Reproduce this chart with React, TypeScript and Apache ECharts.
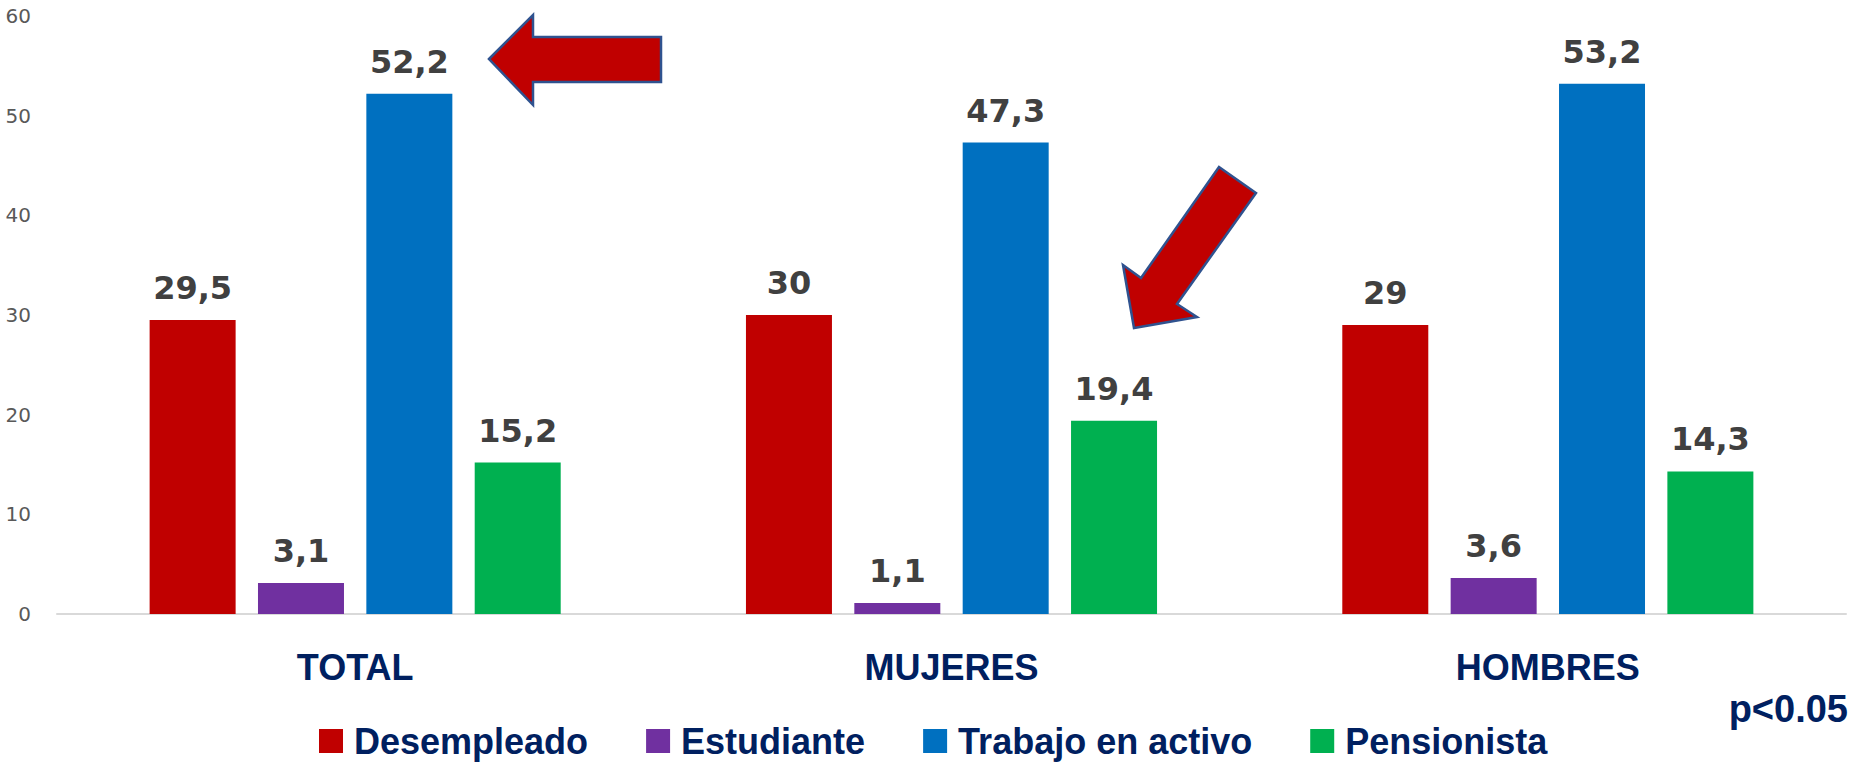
import React, { useEffect, useRef } from "react";
import * as echarts from "echarts";

const categories = ["TOTAL", "MUJERES", "HOMBRES"];
const seriesNames = ["Desempleado", "Estudiante", "Trabajo en activo", "Pensionista"];
const desempleado = [29.5, 30, 29];
const estudiante = [3.1, 1.1, 3.6];
const trabajo = [52.2, 47.3, 53.2];
const pensionista = [15.2, 19.4, 14.3];
const seriesValues = [desempleado, estudiante, trabajo, pensionista];
const seriesColors = ["#C00000", "#7030A0", "#0070C0", "#00B050"];
const yMin = 0;
const yMax = 60;
const yInterval = 10;
const noteText = "p<0.05";

// annotation arrows (decorative shapes)
const arrowLeft = [[489, 59], [533, 15], [533, 37], [661, 37], [661, 82], [533, 82], [533, 105]];
const arrowDiag = [[1219, 167], [1256, 193], [1177, 304], [1197, 317], [1134, 328], [1123, 265], [1141, 278]];

const boldSans = '"Liberation Sans", Arial, sans-serif';

export default function App() {
  const ref = useRef<HTMLDivElement>(null);
  useEffect(() => {
    document.body.style.margin = "0";
    const chart = echarts.init(ref.current!, undefined, { renderer: "svg" });
    chart.setOption({
      animation: false,
      backgroundColor: "#ffffff",
      grid: { left: 57, right: 10, top: 16, bottom: 148, containLabel: false },
      legend: {
        data: seriesNames,
        left: 319,
        top: 723,
        padding: 0,
        icon: "rect",
        itemWidth: 24,
        itemHeight: 24,
        itemGap: 58,
        textStyle: {
          fontFamily: boldSans,
          fontWeight: "bold",
          fontSize: 36,
          color: "#002060",
          padding: [0, 0, 0, 6],
        },
      },
      xAxis: {
        type: "category",
        data: categories,
        axisLine: { show: true, lineStyle: { color: "#D9D9D9", width: 2 } },
        axisTick: { show: false },
        axisLabel: {
          margin: 35,
          fontFamily: boldSans,
          fontWeight: "bold",
          fontSize: 36,
          color: "#002060",
        },
      },
      yAxis: {
        type: "value",
        min: yMin,
        max: yMax,
        interval: yInterval,
        splitLine: { show: false },
        axisLine: { show: false },
        axisTick: { show: false },
        axisLabel: {
          margin: 26,
          fontFamily: '"DejaVu Sans", sans-serif',
          fontSize: 20,
          color: "#595959",
        },
      },
      series: seriesNames.map((name, i) => ({
        name,
        type: "bar",
        data: seriesValues[i],
        barWidth: 86,
        barGap: "26%",
        itemStyle: { color: seriesColors[i] },
        label: {
          show: true,
          position: "top",
          distance: 16,
          fontFamily: '"DejaVu Sans", sans-serif',
          fontWeight: "bold",
          fontSize: 32,
          color: "#404040",
          formatter: (p: any) => String(p.value).replace(".", ","),
        },
      })),
      graphic: [
        {
          type: "polygon",
          shape: { points: arrowLeft },
          style: { fill: "#C00000", stroke: "#2F528F", lineWidth: 2.5 },
        },
        {
          type: "polygon",
          shape: { points: arrowDiag },
          style: { fill: "#C00000", stroke: "#2F528F", lineWidth: 2.5 },
        },
        {
          type: "text",
          right: 8,
          top: 690,
          style: {
            text: noteText,
            fontFamily: boldSans,
            fontWeight: "bold",
            fontSize: 38,
            fill: "#002060",
          },
        },
      ],
    });
    return () => chart.dispose();
  }, []);
  return <div ref={ref} style={{ width: 1856, height: 762 }} />;
}
